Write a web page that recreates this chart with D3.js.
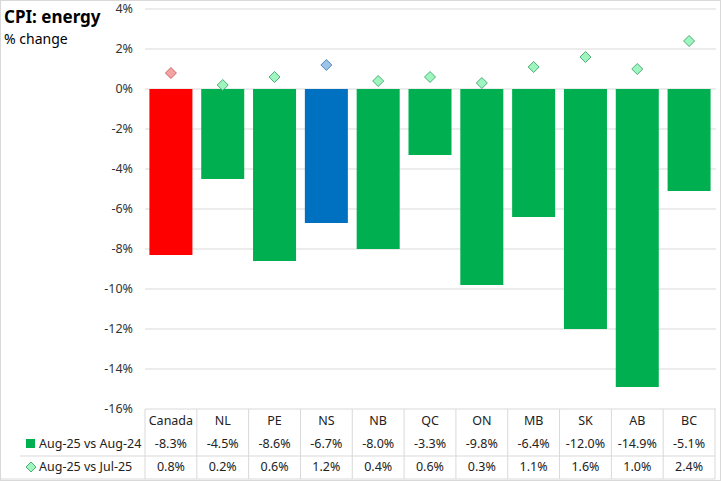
<!DOCTYPE html>
<html>
<head>
<meta charset="utf-8">
<script src="https://cdn.jsdelivr.net/npm/d3@7"></script>
<style>
  body { margin: 0; background: #fff; }
  svg { font-family: "Noto Sans", sans-serif; }
</style>
</head>
<body>
<svg id="chart" width="721" height="481"></svg>
<script>
"use strict";
const categories = ['Canada', 'NL', 'PE', 'NS', 'NB', 'QC', 'ON', 'MB', 'SK', 'AB', 'BC'];
const yearly = [-8.3, -4.5, -8.6, -6.7, -8.0, -3.3, -9.8, -6.4, -12.0, -14.9, -5.1];
const monthly = [0.8, 0.2, 0.6, 1.2, 0.4, 0.6, 0.3, 1.1, 1.6, 1.0, 2.4];
const seriesNames = ['Aug-25 vs Aug-24', 'Aug-25 vs Jul-25'];
const yTicks = [4, 2, 0, -2, -4, -6, -8, -10, -12, -14, -16];

const svg = d3.select('#chart');
const width = +svg.attr('width');
const height = +svg.attr('height');

const left = 145, right = 715;
const x = d3.scaleBand().domain(categories).range([left, right]).paddingInner(0.17).paddingOuter(0.085);
const y = d3.scaleLinear().domain([-16, 4]).range([409, 9]);

const barColor = (d, i) => i === 0 ? '#FF0000' : (i === 3 ? '#0070C0' : '#00B050');
const dFill = (i) => i === 0 ? '#F4A3A3' : (i === 3 ? '#9DC3E6' : '#9EF5C0');
const dStroke = (i) => i === 0 ? '#C05050' : (i === 3 ? '#2E75B6' : '#2E9A5A');

// outer border
svg.append('rect').attr('x', 0.5).attr('y', 0.5).attr('width', width - 1).attr('height', height - 1)
    .attr('fill', 'none').attr('stroke', '#d9d9d9');

// title
svg.append('text').attr('x', 4).attr('y', 23).attr('font-size', '17px').attr('font-weight', 'bold')
    .attr('fill', '#000').text('CPI: energy');
svg.append('text').attr('x', 4).attr('y', 44).attr('font-size', '14px').attr('fill', '#000').text('% change');

// gridlines
svg.selectAll('line.grid')
    .data(yTicks)
    .enter()
    .append('line')
    .attr('x1', left).attr('x2', right + 1)
    .attr('y1', (d) => y(d)).attr('y2', (d) => y(d))
    .attr('stroke', '#d9d9d9').attr('stroke-width', 1);

svg.selectAll('text.ytick')
    .data(yTicks)
    .enter()
    .append('text')
    .attr('x', 133)
    .attr('y', (d) => y(d))
    .attr('dy', '0.35em')
    .attr('text-anchor', 'end')
    .attr('font-size', '12.5px')
    .attr('fill', '#333')
    .text((d) => d + '%');

// bars
svg.selectAll('rect.bar')
    .data(yearly)
    .enter()
    .append('rect')
    .attr('x', (d, i) => x(categories[i]))
    .attr('y', y(0))
    .attr('width', x.bandwidth())
    .attr('height', (d) => y(d) - y(0))
    .attr('fill', barColor);

// diamonds
const ds = 5.5;
svg.selectAll('path.dia')
    .data(monthly)
    .enter()
    .append('path')
    .attr('d', (d, i) => {
        const cx = x(categories[i]) + x.bandwidth() / 2;
        const cy = y(d);
        return `M${cx},${cy - ds}L${cx + ds},${cy}L${cx},${cy + ds}L${cx - ds},${cy}Z`;
    })
    .attr('fill', (d, i) => dFill(i))
    .attr('stroke', (d, i) => dStroke(i))
    .attr('stroke-width', 0.8);

// data table
const tableTop = 409, row2 = 456, tableBottom = 479;
const colW = (right - left) / categories.length;
const colX = (i) => left + i * colW;

svg.selectAll('line.vcol')
    .data(d3.range(categories.length + 1))
    .enter()
    .append('line')
    .attr('x1', (i) => colX(i)).attr('x2', (i) => colX(i))
    .attr('y1', tableTop).attr('y2', tableBottom)
    .attr('stroke', '#d9d9d9');
svg.append('line').attr('x1', 20).attr('x2', colX(categories.length))
    .attr('y1', row2).attr('y2', row2).attr('stroke', '#d9d9d9');
svg.append('line').attr('x1', 0).attr('x2', colX(categories.length))
    .attr('y1', tableBottom).attr('y2', tableBottom).attr('stroke', '#d9d9d9');

const cellText = (arr, cy, fmt) => {
    svg.append('g').selectAll('text')
        .data(arr)
        .enter()
        .append('text')
        .attr('x', (d, i) => colX(i) + colW / 2)
        .attr('y', cy)
        .attr('dy', '0.35em')
        .attr('text-anchor', 'middle')
        .attr('font-size', '12.5px')
        .attr('fill', '#222')
        .text(fmt);
};
cellText(categories, 421, (d) => d);
cellText(yearly, 444, (d) => d.toFixed(1) + '%');
cellText(monthly, 467, (d) => d.toFixed(1) + '%');

// legend keys
svg.append('rect').attr('x', 26).attr('y', 439).attr('width', 9).attr('height', 9).attr('fill', '#00B050');
svg.append('path')
    .attr('d', `M31,${467 - 5}L36,467L31,${467 + 5}L26,467Z`)
    .attr('fill', '#9EF5C0').attr('stroke', '#2E9A5A').attr('stroke-width', 0.8);
svg.selectAll('text.leg')
    .data(seriesNames)
    .enter()
    .append('text')
    .attr('x', 39)
    .attr('y', (d, i) => i === 0 ? 444 : 467)
    .attr('dy', '0.35em')
    .attr('font-size', '12.5px')
    .attr('fill', '#222')
    .text((d) => d);
</script>
</body>
</html>
